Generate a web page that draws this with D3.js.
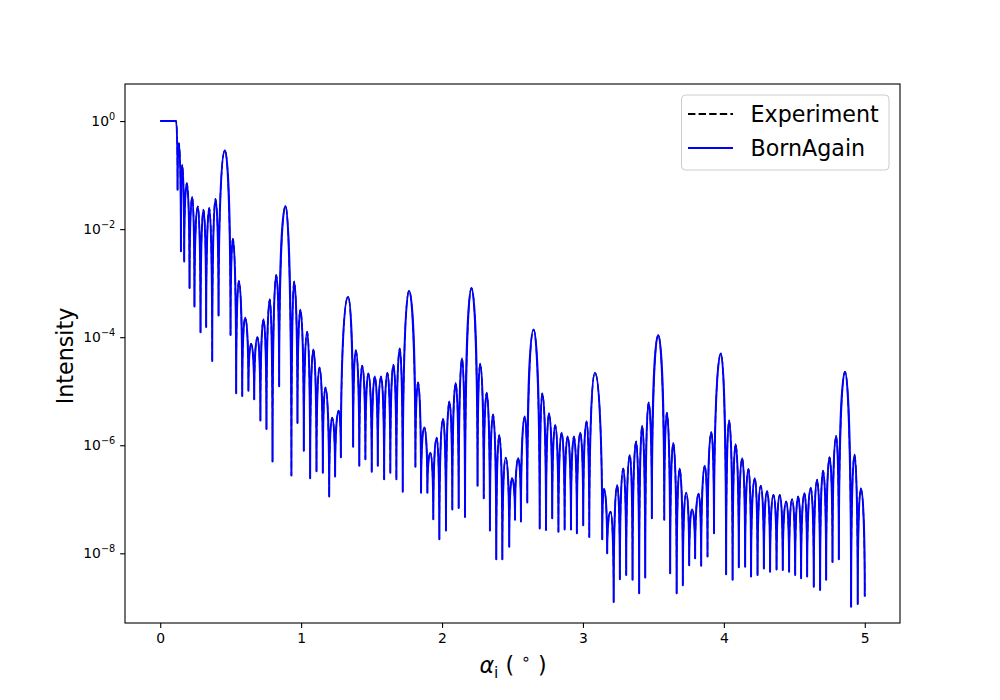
<!DOCTYPE html>
<html><head><meta charset="utf-8">
<script src="https://cdn.jsdelivr.net/npm/d3@7"></script>
<style>body{margin:0;background:#fff} text{font-family:"DejaVu Sans",sans-serif}</style>
</head><body><svg id="c" width="1000" height="700"></svg>
<script>
// incidence angle (degrees)
const angle = [
0.000,0.113,0.123,0.133,0.147,0.156,0.170,0.189,0.208,0.227,0.243,0.267,0.286,0.307,0.326,0.348,0.369,0.392,0.414,0.459,
0.499,0.516,0.539,0.558,0.582,0.603,0.626,0.645,0.667,0.690,0.711,0.733,0.754,0.778,0.797,0.823,0.844,0.889,
0.931,0.950,0.974,0.995,1.019,1.043,1.064,1.087,1.109,1.130,1.154,1.172,1.199,1.220,1.241,1.267,1.282,1.333,
1.369,1.388,1.413,1.433,1.456,1.477,1.501,1.523,1.544,1.567,1.589,1.612,1.633,1.655,1.676,1.700,1.721,1.766,
1.811,1.830,1.851,1.874,1.896,1.917,1.938,1.962,1.981,2.007,2.028,2.052,2.073,2.097,2.118,2.142,2.163,2.209,
2.252,2.270,2.296,2.317,2.340,2.362,2.385,2.406,2.428,2.452,2.477,2.496,2.518,2.541,2.560,2.587,2.605,2.650,
2.693,2.711,2.738,2.759,2.782,2.803,2.826,2.849,2.870,2.891,2.915,2.936,2.957,2.981,3.002,3.026,3.045,3.085,
3.137,3.149,3.172,3.196,3.218,3.243,3.262,3.286,3.307,3.333,3.352,3.377,3.399,3.420,3.442,3.466,3.489,3.534,
3.577,3.596,3.619,3.641,3.665,3.686,3.709,3.733,3.754,3.775,3.796,3.821,3.839,3.865,3.884,3.911,3.930,3.979,
4.016,4.037,4.062,4.083,4.106,4.130,4.151,4.175,4.193,4.220,4.239,4.262,4.284,4.307,4.328,4.352,4.374,4.397,4.418,4.442,
4.463,4.484,4.506,4.527,4.548,4.572,4.591,4.617,4.638,4.662,4.683,4.704,4.726,4.750,4.771,4.797,4.816,4.860,
4.903,4.927,4.950,4.972,5.000
];
// log10 of intensity
const log10Intensity = [
0,0,-1.27,-0.41,-2.41,-0.81,-2.60,-1.15,-3.09,-1.40,-3.43,-1.58,-3.91,-1.64,-3.81,-1.61,-4.44,-1.44,-3.60,-0.54,
-3.96,-2.18,-5.04,-2.96,-5.09,-3.64,-4.99,-4.12,-5.15,-4.00,-5.54,-3.67,-5.70,-3.30,-6.30,-2.85,-4.91,-1.57,
-6.56,-2.97,-5.59,-3.49,-6.10,-3.90,-6.61,-4.23,-6.48,-4.56,-6.51,-4.93,-6.95,-5.49,-6.58,-5.36,-6.22,-3.25,
-6.03,-4.24,-6.38,-4.53,-6.26,-4.67,-6.49,-4.73,-6.38,-4.73,-6.63,-4.66,-6.51,-4.51,-6.63,-4.21,-6.86,-3.14,
-6.40,-4.84,-6.88,-5.67,-6.88,-6.14,-7.37,-5.86,-7.74,-5.51,-7.58,-5.19,-7.19,-4.85,-7.16,-4.39,-7.33,-3.09,
-6.75,-4.49,-6.98,-5.03,-7.58,-5.43,-8.11,-5.81,-8.11,-6.23,-7.88,-6.61,-7.38,-6.24,-7.41,-5.47,-7.06,-3.86,
-7.54,-5.04,-7.57,-5.41,-7.35,-5.63,-7.60,-5.77,-7.56,-5.84,-7.56,-5.84,-7.63,-5.77,-7.48,-5.56,-7.70,-4.66,
-7.74,-6.81,-8.00,-7.23,-8.90,-6.74,-8.48,-6.43,-8.40,-6.18,-8.49,-5.93,-8.74,-5.64,-8.45,-5.21,-7.35,-3.96,
-7.38,-5.40,-8.37,-5.96,-8.74,-6.43,-8.59,-6.88,-8.22,-7.19,-8.09,-6.90,-8.23,-6.38,-8.06,-5.76,-7.63,-4.30,
-8.39,-5.54,-8.49,-5.98,-8.26,-6.24,-8.25,-6.44,-8.43,-6.61,-8.40,-6.75,-8.28,-6.85,-8.34,-6.92,-8.30,-6.92,-8.31,-7.04,
-8.34,-7.00,-8.40,-6.95,-8.46,-6.89,-8.43,-6.79,-8.62,-6.64,-8.68,-6.47,-8.49,-6.22,-8.16,-5.83,-8.11,-4.64,
-8.99,-6.17,-8.94,-6.80,-8.80
];
const xTicks = [0,1,2,3,4,5];
const yTickExponents = [0,-2,-4,-6,-8];
const seriesNames = ["Experiment","BornAgain"];
const xLabelParts = ["α","i"," ( ","∘"," )"];
const yLabel = "Intensity";

const svg = d3.select("#c");
const L=125,R=900,T=84,B=623;
const x = d3.scaleLinear().domain([-0.25,5.25]).range([L,R]);
const y = d3.scaleLog().domain([Math.pow(10,-9.29),Math.pow(10,0.686)]).range([B,T]);

const data = angle.map((a,i)=>({a, v:Math.pow(10,log10Intensity[i])}));

// fringe path: rounded at maxima (horizontal tangent), cusp-like at minima (vertical tangent)
function fringePath(pts){
  const p = d3.path();
  const P = pts.map(d=>[x(d.a), y(d.v)]);
  const k = 0.6, m = 0.55;
  p.moveTo(P[0][0],P[0][1]);
  for(let i=1;i<P.length;i++){
    const [x0,y0]=P[i-1],[x1,y1]=P[i];
    const dx=x1-x0, dy=y1-y0;
    if(Math.abs(dy)<0.01){ p.lineTo(x1,y1); }
    else if(dy<0){ // going up to a maximum
      p.bezierCurveTo(x0, y0+k*dy, x1-m*dx, y1, x1, y1);
    } else {       // going down to a minimum
      p.bezierCurveTo(x0+m*dx, y0, x1, y1-k*dy, x1, y1);
    }
  }
  return p.toString();
}

svg.append("path").attr("d",fringePath(data)).attr("fill","none")
  .attr("stroke","#000").attr("stroke-width",1.4).attr("stroke-dasharray","7.4,3.2");
svg.append("path").attr("d",fringePath(data)).attr("fill","none")
  .attr("stroke","#0000ff").attr("stroke-width",2).attr("stroke-linejoin","round");

// axes
const fs = 13.9;
const gx = svg.append("g").attr("transform",`translate(0,${B})`)
  .call(d3.axisBottom(x).tickValues(xTicks).tickSize(4.9).tickPadding(4.9).tickFormat(d3.format("d")));
const gy = svg.append("g").attr("transform",`translate(${L},0)`)
  .call(d3.axisLeft(y).tickValues(yTickExponents.map(e=>Math.pow(10,e))).tickSize(4.9).tickPadding(4.9).tickFormat(()=>""));
[gx,gy].forEach(g=>{
  g.select(".domain").remove();
  g.selectAll(".tick line").attr("stroke","#000").attr("stroke-width",1.1);
  g.selectAll(".tick text").attr("font-size",fs).attr("fill","#000").attr("font-family","DejaVu Sans");
});
gy.selectAll(".tick text").each(function(d){
  const e = Math.round(Math.log10(d));
  const t = d3.select(this);
  t.text(null);
  t.append("tspan").text("10");
  t.append("tspan").attr("font-size","70%").attr("dy","-0.62em").text(e<0?"−"+(-e):String(e));
});

// frame
svg.append("rect").attr("x",L).attr("y",T).attr("width",R-L).attr("height",B-T)
  .attr("fill","none").attr("stroke","#000").attr("stroke-width",1.1);

// axis labels
svg.append("text").attr("transform",`translate(73,356) rotate(-90)`)
  .attr("text-anchor","middle").attr("font-size",22.2).text(yLabel);
const xl = svg.append("text").attr("x",513).attr("y",673).attr("text-anchor","middle").attr("font-size",22.2);
xl.append("tspan").attr("font-style","italic").text(xLabelParts[0]);
xl.append("tspan").attr("font-size","70%").attr("dy","0.3em").text(xLabelParts[1]);
xl.append("tspan").attr("dy","-0.21em").text(xLabelParts[2]);
xl.append("tspan").attr("font-size","70%").attr("dy","-0.55em").text(xLabelParts[3]);
xl.append("tspan").attr("dy","0.385em").text(xLabelParts[4]);

// legend
const lg = svg.append("g");
lg.append("rect").attr("x",681.5).attr("y",95).attr("width",207.5).attr("height",75).attr("rx",4)
  .attr("fill","#fff").attr("fill-opacity",0.8).attr("stroke","#cccccc").attr("stroke-width",1);
const legY = [114,148];
lg.append("line").attr("x1",688).attr("x2",733).attr("y1",legY[0]).attr("y2",legY[0])
  .attr("stroke","#000").attr("stroke-width",2).attr("stroke-dasharray","7.4,3.2");
lg.append("line").attr("x1",688).attr("x2",733).attr("y1",legY[1]).attr("y2",legY[1])
  .attr("stroke","#0000ff").attr("stroke-width",2);
seriesNames.forEach((n,i)=>{
  lg.append("text").attr("x",750.5).attr("y",legY[i]+8).attr("font-size",22.2).attr("fill","#000").text(n);
});
</script></body></html>
